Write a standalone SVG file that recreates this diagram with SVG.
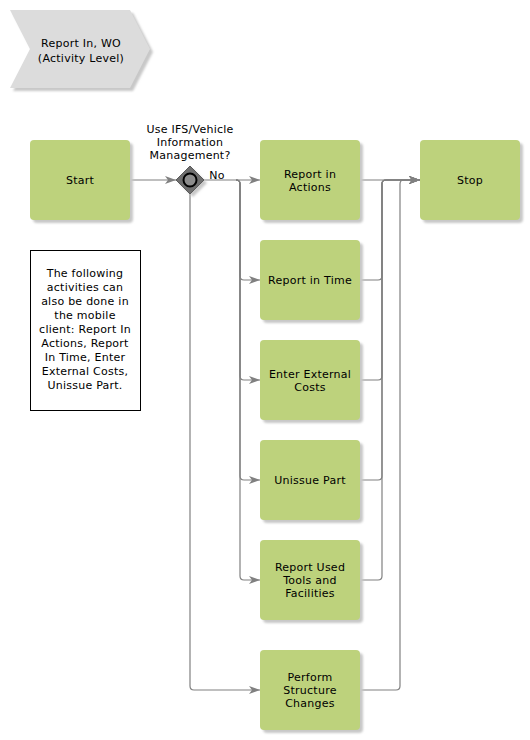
<svg xmlns="http://www.w3.org/2000/svg" width="530" height="740" viewBox="0 0 530 740">
<style>
text{font-family:"DejaVu Sans","Verdana",sans-serif;font-size:11px;letter-spacing:0.25px;fill:#000;text-anchor:middle}
.box{fill:#BDD27C}
.sh{fill:#c8c8c8}
.c{fill:none;stroke:#808080;stroke-width:1.2}
</style>
<defs>
<marker id="ah" markerWidth="12" markerHeight="10" refX="11" refY="5" orient="auto" markerUnits="userSpaceOnUse">
<path d="M0,1 L11,5 L0,9 L3,5 Z" fill="#808080"/>
</marker>
<filter id="blur" x="-10%" y="-10%" width="130%" height="130%"><feGaussianBlur stdDeviation="1"/></filter>
</defs>
<rect width="530" height="740" fill="#fff"/>

<g id="title">
<polygon points="13,13 133,13 153,52 133,91 13,91 33,52" class="sh" filter="url(#blur)"/>
<polygon points="10,10 130,10 150,49 130,88 10,88 30,49" fill="#DCDCDC"/>
<text x="81" y="47">Report In, WO</text>
<text x="81" y="62">(Activity Level)</text>
</g>

<g id="connectors">
<path class="c" d="M130,180 H176" marker-end="url(#ah)"/>
<path class="c" d="M204,180 H260" marker-end="url(#ah)"/>
<path class="c" d="M236,180 Q240,180 240,184 V276 Q240,280 244,280 H260" marker-end="url(#ah)"/>
<path class="c" d="M236,180 Q240,180 240,184 V376 Q240,380 244,380 H260" marker-end="url(#ah)"/>
<path class="c" d="M236,180 Q240,180 240,184 V476 Q240,480 244,480 H260" marker-end="url(#ah)"/>
<path class="c" d="M236,180 Q240,180 240,184 V576 Q240,580 244,580 H260" marker-end="url(#ah)"/>
<path class="c" d="M190,194 V686 Q190,690 194,690 H260" marker-end="url(#ah)"/>
<path class="c" d="M360,180 H420" marker-end="url(#ah)"/>
<path class="c" d="M360,280 H378 Q382,280 382,276 V184 Q382,180 386,180 H420" marker-end="url(#ah)"/>
<path class="c" d="M360,380 H378 Q382,380 382,376 V184 Q382,180 386,180 H420" marker-end="url(#ah)"/>
<path class="c" d="M360,480 H378 Q382,480 382,476 V184 Q382,180 386,180 H420" marker-end="url(#ah)"/>
<path class="c" d="M360,580 H378 Q382,580 382,576 V184 Q382,180 386,180 H420" marker-end="url(#ah)"/>
<path class="c" d="M360,690 H396 Q400,690 400,686 V184 Q400,180 404,180 H420" marker-end="url(#ah)"/>
<text x="217" y="179">No</text>
</g>

<g id="start">
<rect x="33" y="143" width="100" height="80" rx="4" class="sh" filter="url(#blur)"/>
<rect x="30" y="140" width="100" height="80" rx="4" class="box"/>
<text x="80" y="184">Start</text>
</g>

<g id="gateway">
<polygon points="193,169 207,183 193,197 179,183" class="sh" filter="url(#blur)"/>
<polygon points="190,166 204,180 190,194 176,180" fill="#6F6F6F" stroke="#5a5a5a" stroke-width="1"/>
<circle cx="190" cy="180" r="6.5" fill="#8C8C8C" stroke="#000" stroke-width="2"/>
<text x="190" y="133">Use IFS/Vehicle</text>
<text x="190" y="146">Information</text>
<text x="190" y="159">Management?</text>
</g>

<g id="note">
<rect x="30.5" y="250.5" width="110" height="160" fill="#fff" stroke="#000" stroke-width="1"/>
<text x="85" y="277">The following</text>
<text x="85" y="291">activities can</text>
<text x="85" y="305">also be done in</text>
<text x="85" y="319">the mobile</text>
<text x="85" y="333">client: Report In</text>
<text x="85" y="347">Actions, Report</text>
<text x="85" y="361">In Time, Enter</text>
<text x="85" y="375">External Costs,</text>
<text x="85" y="389">Unissue Part.</text>
</g>

<g id="reportActions">
<rect x="263" y="143" width="100" height="80" rx="4" class="sh" filter="url(#blur)"/>
<rect x="260" y="140" width="100" height="80" rx="4" class="box"/>
<text x="310" y="178">Report in</text>
<text x="310" y="191">Actions</text>
</g>

<g id="reportTime">
<rect x="263" y="243" width="100" height="80" rx="4" class="sh" filter="url(#blur)"/>
<rect x="260" y="240" width="100" height="80" rx="4" class="box"/>
<text x="310" y="284">Report in Time</text>
</g>

<g id="externalCosts">
<rect x="263" y="343" width="100" height="80" rx="4" class="sh" filter="url(#blur)"/>
<rect x="260" y="340" width="100" height="80" rx="4" class="box"/>
<text x="310" y="378">Enter External</text>
<text x="310" y="391">Costs</text>
</g>

<g id="unissuePart">
<rect x="263" y="443" width="100" height="80" rx="4" class="sh" filter="url(#blur)"/>
<rect x="260" y="440" width="100" height="80" rx="4" class="box"/>
<text x="310" y="484">Unissue Part</text>
</g>

<g id="usedTools">
<rect x="263" y="543" width="100" height="80" rx="4" class="sh" filter="url(#blur)"/>
<rect x="260" y="540" width="100" height="80" rx="4" class="box"/>
<text x="310" y="571">Report Used</text>
<text x="310" y="584">Tools and</text>
<text x="310" y="597">Facilities</text>
</g>

<g id="structureChanges">
<rect x="263" y="653" width="100" height="80" rx="4" class="sh" filter="url(#blur)"/>
<rect x="260" y="650" width="100" height="80" rx="4" class="box"/>
<text x="310" y="681">Perform</text>
<text x="310" y="694">Structure</text>
<text x="310" y="707">Changes</text>
</g>

<g id="stop">
<rect x="423" y="143" width="100" height="80" rx="4" class="sh" filter="url(#blur)"/>
<rect x="420" y="140" width="100" height="80" rx="4" class="box"/>
<text x="470" y="184">Stop</text>
</g>
</svg>
